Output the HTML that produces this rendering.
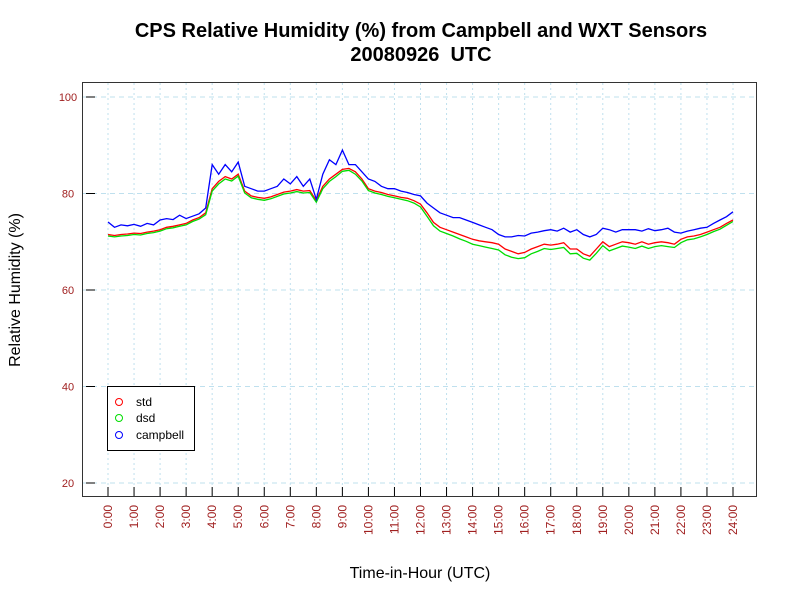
<!DOCTYPE html>
<html><head><meta charset="utf-8"><style>
body{margin:0;background:#fff;font-family:"Liberation Sans",sans-serif}
</style></head><body>
<svg id="c" width="800" height="600" xmlns="http://www.w3.org/2000/svg" font-family="Liberation Sans, sans-serif">
<rect width="800" height="600" fill="#fff"/>
<text x="421" y="37" text-anchor="middle" font-size="20" font-weight="bold">CPS Relative Humidity (%) from Campbell and WXT Sensors</text>
<text x="421" y="61" text-anchor="middle" font-size="20" font-weight="bold" xml:space="preserve">20080926  UTC</text>
<text transform="translate(20,290) rotate(-90)" text-anchor="middle" font-size="16">Relative Humidity (%)</text>
<text x="420" y="578" text-anchor="middle" font-size="16">Time-in-Hour (UTC)</text>
<g id="grid"></g><g id="series"></g><g id="axes"></g>
<rect x="82.5" y="82.5" width="674" height="414" fill="none" stroke="#333" stroke-width="1"/>
<g>
<rect x="107.5" y="386.5" width="87" height="64" fill="#fff" stroke="#000"/>
<circle cx="119" cy="402" r="3.5" fill="none" stroke="#f00"/><text x="136" y="406" font-size="12">std</text>
<circle cx="119" cy="418" r="3.5" fill="none" stroke="#0d0"/><text x="136" y="422" font-size="12">dsd</text>
<circle cx="119" cy="435" r="3.5" fill="none" stroke="#00f"/><text x="136" y="439" font-size="12">campbell</text>
</g>
</svg>
<script>
const yTicks=[20,40,60,80,100];
const xTickLabels=["0:00","1:00","2:00","3:00","4:00","5:00","6:00","7:00","8:00","9:00","10:00","11:00","12:00","13:00","14:00","15:00","16:00","17:00","18:00","19:00","20:00","21:00","22:00","23:00","24:00"];
const campbell=[74.1,73,73.5,73.3,73.6,73.2,73.8,73.5,74.5,74.8,74.6,75.5,74.8,75.3,75.8,77,86,84,86,84.5,86.5,81.5,81,80.5,80.5,81,81.5,83,82,83.5,81.5,83,78.8,84,87,86,89,86,86,84.5,83,82.5,81.5,81,81,80.5,80.2,79.8,79.5,78,77,76,75.5,75,75,74.5,74,73.5,73,72.5,71.5,71,71,71.3,71.2,71.8,72,72.3,72.5,72.2,72.8,72,72.5,71.5,71,71.5,72.8,72.5,72,72.5,72.5,72.5,72.2,72.7,72.3,72.5,72.8,72,71.8,72.2,72.5,72.8,73,73.8,74.5,75.2,76.2];
const stdv=[71.5,71.3,71.5,71.6,71.8,71.7,72,72.2,72.5,73,73.2,73.5,73.8,74.5,75,76,81,82.5,83.5,83,84,80.5,79.5,79.2,79,79.3,79.8,80.3,80.5,80.8,80.5,80.6,78.5,81.5,83,84,85,85.2,84.5,83,81,80.5,80.2,79.8,79.5,79.2,79,78.5,77.8,76,74,73,72.5,72,71.5,71,70.5,70.2,70,69.8,69.5,68.5,68,67.5,67.8,68.5,69,69.5,69.3,69.5,69.8,68.5,68.5,67.5,67,68.5,70,69,69.5,70,69.8,69.5,70,69.5,69.8,70,69.8,69.5,70.5,71,71.2,71.5,72,72.5,73,73.8,74.5];
const dsd=[71.2,71,71.2,71.3,71.5,71.4,71.7,71.9,72.2,72.7,72.9,73.2,73.5,74.2,74.7,75.6,80.5,82,83,82.6,83.6,80.1,79.1,78.8,78.6,78.9,79.4,79.9,80.1,80.4,80.1,80.2,78.2,81,82.5,83.5,84.6,84.8,84,82.6,80.6,80.1,79.8,79.4,79.1,78.8,78.5,78,77.2,75.3,73.3,72.2,71.7,71.2,70.6,70.1,69.5,69.2,68.9,68.6,68.3,67.3,66.8,66.5,66.7,67.5,68,68.6,68.4,68.6,68.8,67.5,67.6,66.6,66.2,67.6,69.2,68.1,68.6,69.1,68.9,68.6,69.1,68.6,69,69.2,69,68.8,69.8,70.4,70.6,71,71.5,72.1,72.6,73.4,74.2];
const NS="http://www.w3.org/2000/svg";
const X0=108,X1=733,Y0=483,Y1=97;
function xs(h){return X0+(X1-X0)*h/24;}
function ys(v){return Y0+(Y1-Y0)*(v-20)/80;}
function mk(t,a,p){const e=document.createElementNS(NS,t);for(const k in a)e.setAttribute(k,a[k]);p.appendChild(e);return e;}
const grid=document.getElementById('grid'),axes=document.getElementById('axes'),ser=document.getElementById('series');
yTicks.forEach(v=>{
 const l=mk('line',{x1:83,x2:756,y1:ys(v),y2:ys(v),stroke:'#bfe0ee','stroke-dasharray':'5,4'},grid);
 
 
 const t=mk('line',{x1:86,x2:95,y1:ys(v),y2:ys(v),stroke:'#000'},axes);
 
 
 const tx=mk('text',{x:68,y:ys(v)+4,'text-anchor':'middle','font-size':11,fill:'#a02020'},axes);
 tx.textContent=v;
 
 
});
xTickLabels.forEach((s,i)=>{
 const x=xs(i);
 const l=mk('line',{x1:x,x2:x,y1:83,y2:496,stroke:'#bfe0ee','stroke-dasharray':'2,3'},grid);
 
 
 const t=mk('line',{x1:x,x2:x,y1:487,y2:496,stroke:'#000'},axes);
 
 
 const tx=mk('text',{transform:`translate(${x+4},505) rotate(-90)`,'text-anchor':'end','font-size':12,fill:'#a02020'},axes);
 tx.textContent=s;
 
 
});
function line(arr,col,name){
 const n=arr.length-1;
 const pts=arr.map((v,i)=>xs(24*i/n).toFixed(1)+','+ys(v).toFixed(1)).join(' ');
 const p=mk('polyline',{points:pts,fill:'none',stroke:col,'stroke-width':1.3},ser);
 
 
}
line(stdv,'#f00','std-line');
line(dsd,'#0d0','dsd-line');
line(campbell,'#00f','campbell-line');
</script>
</body></html>
